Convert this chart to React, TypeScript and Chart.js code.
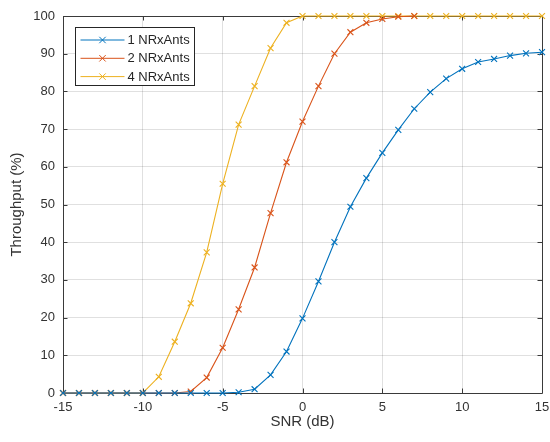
import React, { useEffect, useRef } from "react";
import { Chart, registerables } from "chart.js";

Chart.register(...registerables);

// SNR sweep (dB) and measured throughput (%) per receive-antenna configuration
const snrDb = [-15, -14, -13, -12, -11, -10, -9, -8, -7, -6, -5, -4, -3, -2, -1, 0, 1, 2, 3, 4, 5, 6, 7, 8, 9, 10, 11, 12, 13, 14, 15];

const throughput1Ant = [0, 0, 0, 0, 0, 0, 0, 0, 0, 0, 0, 0.2, 1.0, 4.8, 11.0, 19.8, 29.6, 40.0, 49.4, 57.0, 63.7, 69.8, 75.4, 79.8, 83.4, 86.0, 87.8, 88.6, 89.5, 90.1, 90.4];
const throughput2Ant = [0, 0, 0, 0, 0, 0, 0, 0, 0.4, 4.1, 12.0, 22.2, 33.3, 47.7, 61.2, 72.0, 81.4, 90.0, 95.7, 98.2, 99.2, 99.8, 100];
const throughput4Ant = [0, 0, 0, 0, 0, 0, 4.3, 13.6, 23.8, 37.3, 55.5, 71.2, 81.4, 91.5, 98.2, 100, 100, 100, 100, 100, 100, 100, 100, 100, 100, 100, 100, 100, 100, 100, 100];

const seriesLabels = ["1 NRxAnts", "2 NRxAnts", "4 NRxAnts"];
const seriesColors = ["#0072BD", "#D95319", "#EDB120"];

const xTickValues = [-15, -10, -5, 0, 5, 10, 15];
const yTickValues = [0, 10, 20, 30, 40, 50, 60, 70, 80, 90, 100];

const FONT = '"Liberation Sans", Arial, Helvetica, sans-serif';
const AXIS_COLOR = "#3a3a3a";

const toPoints = (ys: number[]) => ys.map((y, i) => ({ x: snrDb[i], y }));

// Axes box with inward tick marks on all four sides, drawn under the data
const boxPlugin = {
  id: "axesBox",
  beforeDatasetsDraw(chart: any) {
    const { ctx, chartArea } = chart;
    const { left, right, top, bottom } = chartArea;
    const xs = chart.scales.x;
    const ys = chart.scales.y;
    const len = 4.5;
    ctx.save();
    ctx.strokeStyle = AXIS_COLOR;
    ctx.lineWidth = 1;
    ctx.beginPath();
    ctx.rect(Math.round(left) + 0.5, Math.round(top) + 0.5, Math.round(right - left), Math.round(bottom - top));
    for (const v of xTickValues) {
      const px = Math.round(xs.getPixelForValue(v)) + 0.5;
      ctx.moveTo(px, bottom);
      ctx.lineTo(px, bottom - len);
      ctx.moveTo(px, top);
      ctx.lineTo(px, top + len);
    }
    for (const v of yTickValues) {
      const py = Math.round(ys.getPixelForValue(v)) + 0.5;
      ctx.moveTo(left, py);
      ctx.lineTo(left + len, py);
      ctx.moveTo(right, py);
      ctx.lineTo(right - len, py);
    }
    ctx.stroke();
    ctx.restore();
  },
};

// Boxed legend in the upper-left corner of the plot area
const legendPlugin = {
  id: "boxedLegend",
  afterDatasetsDraw(chart: any) {
    const { ctx, chartArea } = chart;
    const x0 = Math.round(chartArea.left + 12) + 0.5;
    const y0 = Math.round(chartArea.top + 11) + 0.5;
    const w = 119;
    const h = 58;
    ctx.save();
    ctx.fillStyle = "#ffffff";
    ctx.fillRect(x0, y0, w, h);
    ctx.strokeStyle = "#262626";
    ctx.lineWidth = 1;
    ctx.strokeRect(x0, y0, w, h);
    ctx.font = `13px ${FONT}`;
    ctx.textBaseline = "middle";
    ctx.textAlign = "left";
    chart.data.datasets.forEach((ds: any, i: number) => {
      const cy = y0 + 12.5 + i * 18.3;
      ctx.strokeStyle = ds.borderColor;
      ctx.lineWidth = 1;
      ctx.beginPath();
      ctx.moveTo(x0 + 5, cy);
      ctx.lineTo(x0 + 49, cy);
      const mx = x0 + 27;
      const r = 3.2;
      ctx.moveTo(mx - r, cy - r);
      ctx.lineTo(mx + r, cy + r);
      ctx.moveTo(mx + r, cy - r);
      ctx.lineTo(mx - r, cy + r);
      ctx.stroke();
      ctx.fillStyle = "#262626";
      ctx.fillText(ds.label, x0 + 52, cy + 0.5);
    });
    ctx.restore();
  },
};

export default function App() {
  const canvasRef = useRef<HTMLCanvasElement | null>(null);

  useEffect(() => {
    if (!canvasRef.current) return;
    const seriesData = [throughput1Ant, throughput2Ant, throughput4Ant];
    const chart = new Chart(canvasRef.current, {
      type: "line",
      data: {
        datasets: seriesData.map((ys, i) => ({
          label: seriesLabels[i],
          data: toPoints(ys),
          borderColor: seriesColors[i],
          backgroundColor: seriesColors[i],
          borderWidth: 1.1,
          pointStyle: "crossRot",
          pointRadius: 4.2,
          pointBorderWidth: 1.1,
          pointBorderColor: seriesColors[i],
          pointHoverRadius: 4.2,
          tension: 0,
          fill: false,
          clip: false,
        })),
      },
      options: {
        responsive: false,
        animation: false,
        devicePixelRatio: 1,
        layout: { padding: { left: 0, top: 16, right: 8, bottom: 0 } },
        plugins: {
          legend: { display: false },
          tooltip: { enabled: false },
        },
        scales: {
          x: {
            type: "linear",
            min: -15,
            max: 15,
            afterFit: (scale: any) => {
              scale.height = 49;
              scale.paddingLeft = 0;
              scale.paddingRight = 0;
            },
            afterBuildTicks: (scale: any) => {
              scale.ticks = xTickValues.map((v) => ({ value: v }));
            },
            ticks: {
              padding: 7,
              color: "#333333",
              font: { family: FONT, size: 13 },
              maxRotation: 0,
              autoSkip: false,
            },
            grid: { color: "rgba(0,0,0,0.12)", drawTicks: false, lineWidth: 1 },
            border: { display: false },
            title: {
              display: true,
              text: "SNR (dB)",
              color: "#333333",
              font: { family: FONT, size: 15 },
              padding: { top: 0, bottom: 11 },
            },
          },
          y: {
            type: "linear",
            min: 0,
            max: 100,
            afterFit: (scale: any) => {
              scale.width = 63;
              scale.paddingTop = 0;
              scale.paddingBottom = 0;
            },
            afterBuildTicks: (scale: any) => {
              scale.ticks = yTickValues.map((v) => ({ value: v }));
            },
            ticks: {
              padding: 8,
              color: "#333333",
              font: { family: FONT, size: 13 },
              autoSkip: false,
            },
            grid: { color: "rgba(0,0,0,0.12)", drawTicks: false, lineWidth: 1 },
            border: { display: false },
            title: {
              display: true,
              text: "Throughput (%)",
              color: "#333333",
              font: { family: FONT, size: 15 },
              padding: { top: 8, bottom: 0 },
            },
          },
        },
      },
      plugins: [boxPlugin, legendPlugin],
    });
    return () => chart.destroy();
  }, []);

  return (
    <div style={{ position: "fixed", left: 0, top: 0, width: 550, height: 442, background: "#ffffff" }}>
      <canvas ref={canvasRef} width={550} height={442} />
    </div>
  );
}
